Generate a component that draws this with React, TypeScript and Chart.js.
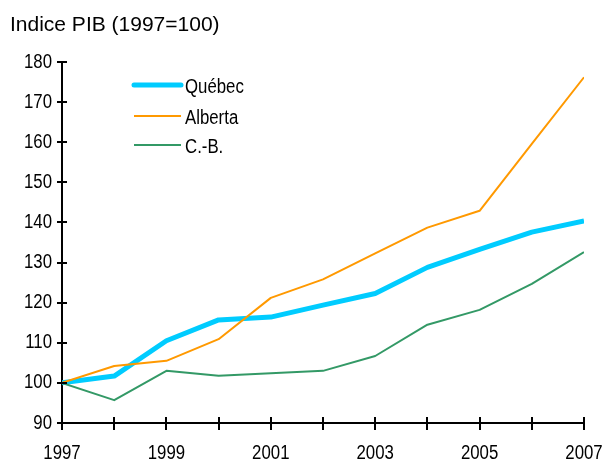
import React, { useEffect, useRef } from "react";
import { Chart, registerables } from "chart.js";

Chart.register(...registerables);

const years = [1997, 1998, 1999, 2000, 2001, 2002, 2003, 2004, 2005, 2006, 2007];
const xTickLabels = ["1997", "", "1999", "", "2001", "", "2003", "", "2005", "", "2007"];
const quebec = [100, 101.7, 110.5, 115.7, 116.4, 119.4, 122.3, 128.8, 133.3, 137.6, 140.4];
const alberta = [100, 104.2, 105.5, 110.9, 121.2, 125.8, 132.3, 138.7, 142.9, 159.6, 176.2];
const cb = [100, 95.7, 103.0, 101.8, 102.4, 103.0, 106.7, 114.5, 118.2, 124.7, 132.6];
const seriesNames = ["Québec", "Alberta", "C.-B."];
const seriesColors = ["#00CCFF", "#FF9900", "#339966"];
const seriesWidths = [5, 2, 2];
const titleText = "Indice PIB (1997=100)";
const yMin = 90;
const yMax = 180;

const REG = "'Liberation Sans', Arial, sans-serif";
const SQUEEZE = 0.84;

function squeezedText(ctx: CanvasRenderingContext2D, text: string, x: number, y: number, align: CanvasTextAlign) {
  ctx.save();
  ctx.translate(x, y);
  ctx.scale(SQUEEZE, 1);
  ctx.textAlign = align;
  ctx.textBaseline = "alphabetic";
  ctx.fillText(text, 0, 0);
  ctx.restore();
}

const decorPlugin = {
  id: "decor",
  afterDraw(chart: any) {
    const ctx = chart.ctx as CanvasRenderingContext2D;
    const xs = chart.scales.x;
    const ys = chart.scales.y;
    const area = chart.chartArea;
    ctx.save();
    // tick marks crossing the axes
    ctx.strokeStyle = "#000";
    ctx.lineWidth = 2;
    ctx.beginPath();
    for (const t of xs.ticks) {
      const px = Math.round(xs.getPixelForValue(t.value));
      ctx.moveTo(px, area.bottom - 6);
      ctx.lineTo(px, area.bottom + 7);
    }
    for (const t of ys.ticks) {
      const py = Math.round(ys.getPixelForValue(t.value));
      ctx.moveTo(area.left - 5, py);
      ctx.lineTo(area.left + 5, py);
    }
    ctx.stroke();
    // tick labels
    ctx.fillStyle = "#000";
    ctx.font = "20px " + REG;
    for (const t of ys.ticks) {
      const py = ys.getPixelForValue(t.value);
      squeezedText(ctx, String(t.value), area.left - 10, py + 5.5, "right");
    }
    xs.ticks.forEach((t: any) => {
      const idx = years.indexOf(t.value);
      const lab = idx >= 0 ? xTickLabels[idx] : "";
      if (!lab) return;
      const px = xs.getPixelForValue(t.value);
      squeezedText(ctx, lab, px, area.bottom + 36, "center");
    });
    // title
    ctx.font = "21px " + REG;
    ctx.textBaseline = "alphabetic";
    ctx.textAlign = "left";
    ctx.fillText(titleText, 10, 31);
    // legend
    const legY = [85, 116, 145];
    ctx.font = "20px " + REG;
    for (let i = 0; i < seriesNames.length; i++) {
      ctx.strokeStyle = seriesColors[i];
      ctx.lineWidth = seriesWidths[i];
      ctx.lineCap = i === 0 ? "round" : "butt";
      ctx.beginPath();
      ctx.moveTo(134, legY[i]);
      ctx.lineTo(181, legY[i]);
      ctx.stroke();
      ctx.fillStyle = "#000";
      squeezedText(ctx, seriesNames[i], 185, legY[i] + 8, "left");
    }
    ctx.restore();
  },
};

export default function App() {
  const ref = useRef<HTMLCanvasElement>(null);
  useEffect(() => {
    if (!ref.current) return;
    const mk = (vals: number[], i: number) => ({
      label: seriesNames[i],
      data: years.map((y, k) => ({ x: y, y: vals[k] })),
      borderColor: seriesColors[i],
      backgroundColor: seriesColors[i],
      borderWidth: seriesWidths[i],
      pointRadius: 0,
      tension: 0,
      borderJoinStyle: "round" as const,
    });
    const chart = new Chart(ref.current, {
      type: "line",
      data: { datasets: [mk(cb, 2), mk(alberta, 1), mk(quebec, 0)] },
      options: {
        animation: false,
        responsive: false,
        devicePixelRatio: 1,
        layout: { padding: { top: 62, right: 21, left: 0, bottom: 0 } },
        plugins: { legend: { display: false }, tooltip: { enabled: false }, title: { display: false } },
        scales: {
          x: {
            type: "linear",
            min: 1997,
            max: 2007,
            afterFit: (s: any) => { s.height = 37; },
            ticks: { stepSize: 1, autoSkip: false, display: false },
            grid: { display: false },
            border: { display: true, color: "#000", width: 2 },
          },
          y: {
            min: yMin,
            max: yMax,
            afterFit: (s: any) => { s.width = 62; },
            ticks: { stepSize: 10, display: false },
            grid: { display: false },
            border: { display: true, color: "#000", width: 2 },
          },
        },
      },
      plugins: [decorPlugin],
    });
    return () => chart.destroy();
  }, []);
  return (
    <div style={{ position: "absolute", left: 0, top: 0, width: 605, height: 460, background: "#fff" }}>
      <canvas ref={ref} width={605} height={460} />
    </div>
  );
}
